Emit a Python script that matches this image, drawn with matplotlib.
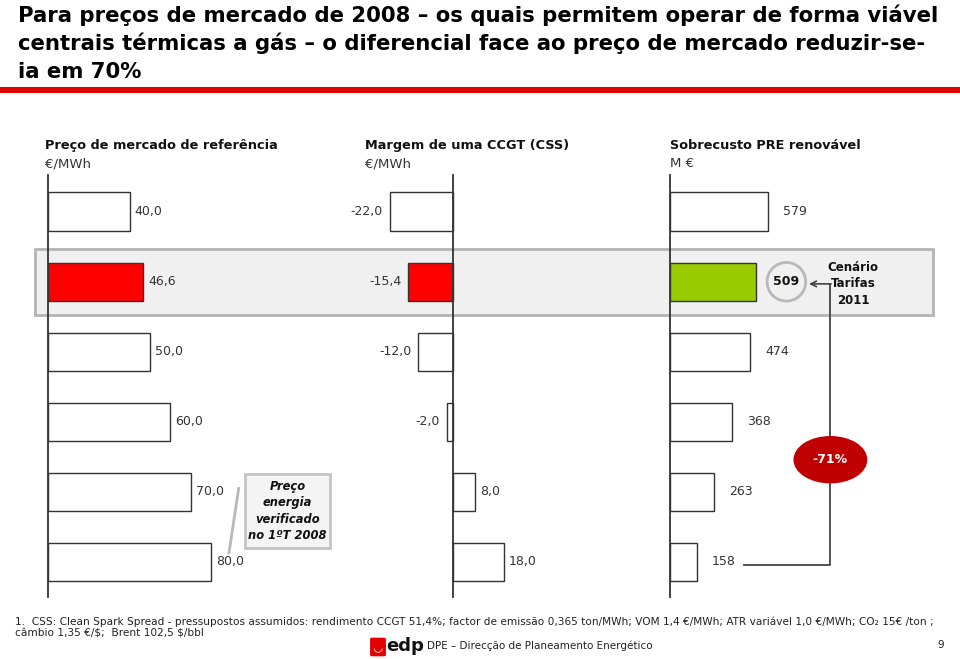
import matplotlib.pyplot as plt
from matplotlib.patches import Rectangle, Ellipse, FancyBboxPatch
from matplotlib.lines import Line2D
from matplotlib.transforms import blended_transform_factory

plt.rcParams.update({
    "font.family": "DejaVu Sans",
    "text.color": "#222222",
})

# data
rows = [0, 1, 2, 3, 4, 5]
preco_mercado = [40.0, 46.6, 50.0, 60.0, 70.0, 80.0]      # EUR/MWh
margem_ccgt = [-22.0, -15.4, -12.0, -2.0, 8.0, 18.0]      # EUR/MWh
sobrecusto_pre = [579, 509, 474, 368, 263, 158]           # M EUR
destaque = 1          # linha do cenario tarifas 2011
reducao = "-71%"

W, H = 960, 659
fig = plt.figure(figsize=(W / 100, H / 100), dpi=100)


def fx(x):
    return x / W


def fy(y):
    return 1 - y / H


def fmt(v):
    return f"{v:.1f}".replace(".", ",")


# axes layout in pixels
y_top, y_bot = 175.3, 597
ylim = (5.5, -0.52)
bottom, height = fy(y_bot), (y_bot - y_top) / H

ax1 = fig.add_axes([fx(48.3), bottom, fx(2.035 * 100), height])
ax1.set_xlim(0, 100)
ax2 = fig.add_axes([fx(452.5 - 2.86 * 30), bottom, fx(2.86 * 60), height])
ax2.set_xlim(-30, 30)
ax3 = fig.add_axes([fx(669.6), bottom, fx(0.1705 * 1500), height])
ax3.set_xlim(0, 1500)

for ax in (ax1, ax2, ax3):
    ax.set_ylim(*ylim)
    ax.set_facecolor("none")
    for s in ("top", "right", "bottom"):
        ax.spines[s].set_visible(False)
    ax.spines["left"].set_color("#333333")
    ax.spines["left"].set_linewidth(1.3)
    ax.set_xticks([])
    ax.set_yticks([])
ax2.spines["left"].set_position(("data", 0))

# highlighted band (cenario tarifas 2011)
band_tr = blended_transform_factory(fig.transFigure, ax1.transData)
band = Rectangle((fx(35), destaque - 0.47), fx(932.9) - fx(35), 0.94,
                 transform=band_tr, facecolor="#f0f0f0", edgecolor="#b4b4b4",
                 lw=2, clip_on=False, zorder=0)
ax1.add_patch(band)

# bars
c1 = ["#ff0000" if r == destaque else "white" for r in rows]
c3 = ["#99cc00" if r == destaque else "white" for r in rows]
bh = 0.55
ax1.barh(rows, preco_mercado, height=bh, color=c1, edgecolor="#333333", lw=1, zorder=2)
ax2.barh(rows, margem_ccgt, height=bh, color=c1, edgecolor="#333333", lw=1, zorder=2)
ax3.barh(rows, sobrecusto_pre, height=bh, color=c3, edgecolor="#333333", lw=1, zorder=2)

lbl = dict(va="center", fontsize=9, color="#333333", textcoords="offset pixels")
for r, v in zip(rows, preco_mercado):
    ax1.annotate(fmt(v), (v, r), xytext=(5, 0), ha="left", **lbl)
for r, v in zip(rows, margem_ccgt):
    if v < 0:
        ax2.annotate(fmt(v), (v, r), xytext=(-7, 0), ha="right", **lbl)
    else:
        ax2.annotate(fmt(v), (v, r), xytext=(5, 0), ha="left", **lbl)
for r, v in zip(rows, sobrecusto_pre):
    if r == destaque:
        ax3.annotate(f"{v}", (v, r), xytext=(30, 0), ha="center", va="center",
                     textcoords="offset pixels", fontsize=9, fontweight="bold",
                     color="#111111",
                     bbox=dict(boxstyle="circle,pad=0.5", fc="#f0f0f0",
                               ec="#b8b8b8", lw=2))
    else:
        ax3.annotate(f"{v}", (v, r), xytext=(15, 0), ha="left", **lbl)

# bracket with reduction between cenario 2011 and last row
tr3 = blended_transform_factory(fig.transFigure, ax3.transData)
r_top = destaque + 0.03
r_bot = rows[-1] + 0.04
ax3.add_line(Line2D([fx(744), fx(830.4), fx(830.4)], [r_bot, r_bot, r_top],
                    transform=tr3, color="#444444", lw=1.3, clip_on=False, zorder=3))
ax3.annotate("", xy=(fx(809), r_top), xycoords=tr3,
             xytext=(fx(830.4) + 0.0007, r_top), textcoords=tr3,
             arrowprops=dict(arrowstyle="->", color="#444444", lw=1.2,
                             shrinkA=0, shrinkB=0), annotation_clip=False)
ax3.add_patch(Ellipse((fx(830.4), 3.54), fx(72.5), 46 / 70.05, transform=tr3,
                      facecolor="#c00000", edgecolor="#c00000", clip_on=False, zorder=4))
ax3.text(fx(830.4), 3.54, reducao, transform=tr3, ha="center", va="center",
         color="white", fontsize=9, fontweight="bold", zorder=5, clip_on=False)
ax3.text(fx(853), r_top, "Cenário\nTarifas\n2011", transform=tr3, ha="center",
         va="center", fontsize=8.5, fontweight="bold", linespacing=1.35,
         color="#111111", clip_on=False)

# callout
fig.add_artist(Rectangle((fx(245), fy(547.7)), fx(85), 73.4 / H,
                         facecolor="#f4f4f4", edgecolor="#c4c4c4", lw=2,
                         transform=fig.transFigure))
fig.text(fx(287.5), fy(511), "Preço\nenergia\nverificado\nno 1ºT 2008",
         ha="center", va="center", fontsize=8.3, fontweight="bold",
         style="italic", linespacing=1.35, color="#111111")
fig.add_artist(Line2D([fx(238.7), fx(229)], [fy(488.3), fy(552.7)],
                      color="#b8b8b8", lw=2, transform=fig.transFigure))

# headers
headers = [("Preço de mercado de referência", "€/MWh", 45),
           ("Margem de uma CCGT (CSS)", "€/MWh", 365),
           ("Sobrecusto PRE renovável", "M €", 670)]
for t, u, x in headers:
    fig.text(fx(x), fy(145.7), t, fontsize=9.3, fontweight="bold",
             va="center", ha="left", color="#111111")
    fig.text(fx(x), fy(164), u, fontsize=9.5, va="center", ha="left",
             color="#333333")

# title
title = ["Para preços de mercado de 2008 – os quais permitem operar de forma viável",
         "centrais térmicas a gás – o diferencial face ao preço de mercado reduzir-se-",
         "ia em 70%"]
for line, y in zip(title, [15, 43.5, 72]):
    fig.text(fx(18), fy(y), line, fontsize=15.3, fontweight="bold",
             va="center", ha="left", color="black")
fig.add_artist(Rectangle((0, fy(93.3)), 1, 6 / H, facecolor="#e30000",
                         edgecolor="none", transform=fig.transFigure))

# footnote
fig.text(fx(15), fy(621.5),
         "1.  CSS: Clean Spark Spread - pressupostos assumidos: rendimento CCGT 51,4%; "
         "factor de emissão 0,365 ton/MWh; VOM 1,4 €/MWh; ATR variável 1,0 €/MWh; CO₂ 15€ /ton ;",
         fontsize=7.6, va="center", ha="left", color="#222222")
fig.text(fx(15), fy(633), r"câmbio 1,35 €/\$;  Brent 102,5 \$/bbl",
         fontsize=7.6, va="center", ha="left", color="#222222")

# edp footer
fig.add_artist(FancyBboxPatch((fx(372), fy(655)), fx(12), 16 / H,
                              boxstyle="round,pad=0.002", facecolor="#e30000",
                              edgecolor="none", transform=fig.transFigure))
fig.text(fx(378), fy(648), "◡", fontsize=8, fontweight="bold",
         va="center", ha="center", color="white")
fig.text(fx(386), fy(646), "edp", fontsize=13, fontweight="bold",
         va="center", ha="left", color="#111111")
fig.text(fx(427), fy(646), "DPE – Direcção de Planeamento Energético",
         fontsize=7.5, va="center", ha="left", color="#222222")
fig.text(fx(937), fy(645), "9", fontsize=7.5, va="center", ha="left",
         color="#222222")

fig.savefig("out.png", dpi=100)
